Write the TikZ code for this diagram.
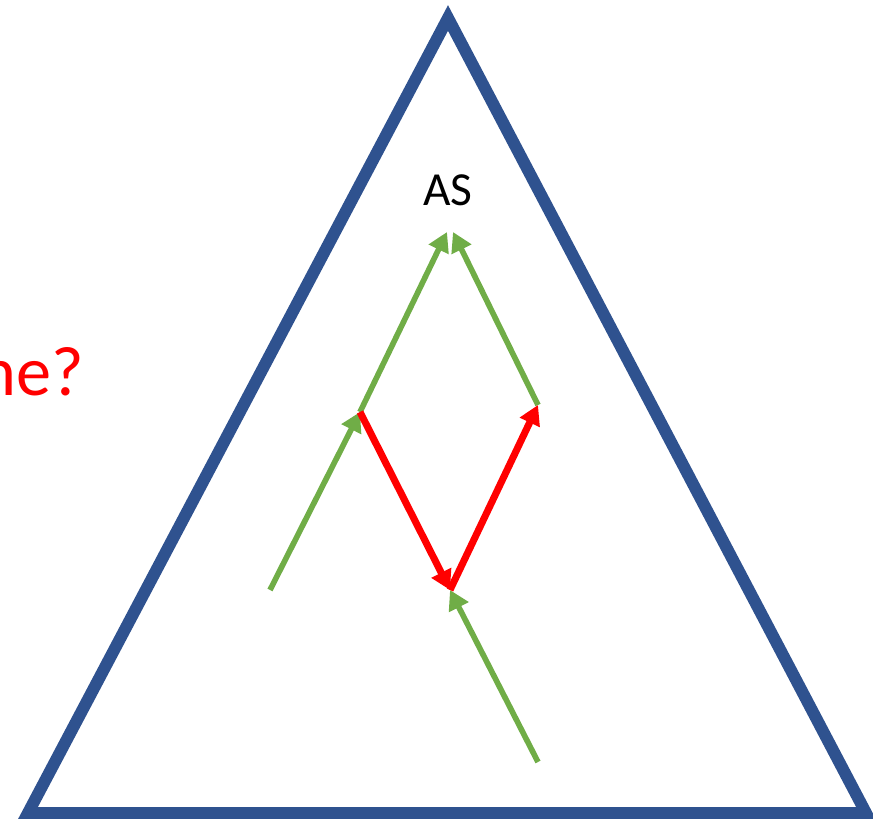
\documentclass[tikz,border=0pt]{standalone}
\usepackage{fontspec}
\setmainfont{Carlito}
\usetikzlibrary{arrows.meta}
\definecolor{triblue}{RGB}{47,82,143}
\definecolor{arrgreen}{RGB}{112,173,71}
\tikzset{
    pasoverde/.style={arrgreen, line width=3.2pt, -{Triangle[length=11pt,width=12pt]}},
    pasorojo/.style={red, line width=4pt, -{Triangle[length=11pt,width=12pt]}}
}
\begin{document}
\begin{tikzpicture}[x=0.02cm, y=-0.02cm]
                \useasboundingbox (0,0) rectangle (873,820);
                % Triangulo
                \draw[triblue, line width=6.8pt, line join=miter] (448,18) -- (866,813) -- (28,813) -- cycle;
                \node (as) at (448,190) {\fontsize{27}{32}\selectfont AS};
                \node[red, anchor=base east, inner sep=0pt] (ne) at (84,396) {\fontsize{40}{44}\selectfont ne?};

                % Puntos
                \coordinate (a) at (270,590);
                \coordinate (b) at (360,412);
                \coordinate (c) at (447,232);
                \coordinate (d) at (453,232);
                \coordinate (e) at (538,405);
                \coordinate (f) at (450,590);
                \coordinate (g) at (538,762);

                % Flechas verdes
                \draw[pasoverde] (a) -- (b);
                \draw[pasoverde] (b) -- (c);
                \draw[pasoverde] (e) -- (d);
                \draw[pasoverde] (g) -- (f);

                % Flechas rojas
                \draw[pasorojo] (b) -- (f);
                \draw[pasorojo] (f) -- (e);
\end{tikzpicture}
\end{document}
